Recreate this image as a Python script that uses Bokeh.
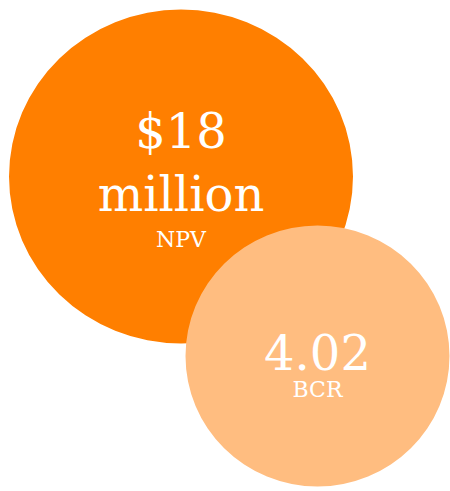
from bokeh.plotting import figure
from bokeh.models import Range1d, ColumnDataSource
from bokeh.core.properties import value
from bokeh.embed import file_html
from bokeh.resources import INLINE

# Data
metrics = ["NPV", "BCR"]
headline_lines = [["$18", "million"], ["4.02"]]
bubble_colors = ["#FF7F00", "#FFBD80"]

# Layout (pixel space of the figure)
W, H = 450, 491
bubble_x = [180.5, 317.0]
bubble_y = [176.0, 355.5]
bubble_w = [344, 264]
bubble_h = [334, 261]

p = figure(width=W, height=H, output_backend="svg", toolbar_location=None,
           x_range=Range1d(0, W), y_range=Range1d(H, 0),
           min_border=0, outline_line_color=None)
p.axis.visible = False
p.grid.visible = False
p.background_fill_color = "white"
p.border_fill_color = "white"

src = ColumnDataSource(dict(x=bubble_x, y=bubble_y, w=bubble_w, h=bubble_h, c=bubble_colors))
p.ellipse(x="x", y="y", width="w", height="h", fill_color="c", line_color=None, source=src)

font = value("DejaVu Serif")

# headline values
big_x, big_y, big_t = [], [], []
line_offsets = [[-46, 17.5], [-4]]
for i, lines in enumerate(headline_lines):
    for j, t in enumerate(lines):
        big_x.append(bubble_x[i])
        big_y.append(bubble_y[i] + line_offsets[i][j])
        big_t.append(t)
p.text(x=big_x, y=big_y, text=big_t, text_font=font, text_font_size="48px",
       text_color="white", text_align="center", text_baseline="middle")

label_offsets = [62.5, 33.5]
p.text(x=bubble_x, y=[bubble_y[i] + label_offsets[i] for i in range(2)], text=metrics,
       text_font=font, text_font_size="22px", text_color="white",
       text_align="center", text_baseline="middle")

open("out.html", "w").write(file_html(p, INLINE))
